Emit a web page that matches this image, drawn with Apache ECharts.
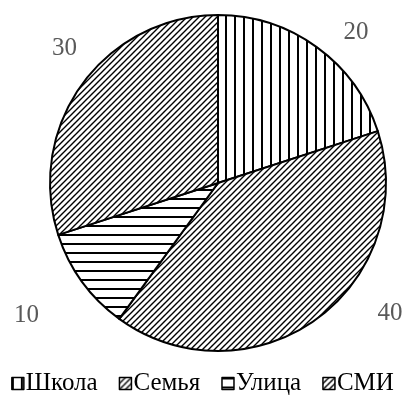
<!DOCTYPE html>
<html><head><meta charset="utf-8">
<script src="https://cdn.jsdelivr.net/npm/echarts@6/dist/echarts.min.js"></script>
<style>html,body{margin:0;padding:0;background:#fff}#c{width:405px;height:401px}</style>
</head><body><div id="c"></div>
<script>
const categories = ['Школа', 'Семья', 'Улица', 'СМИ'];
const values = [20, 40, 10, 30];
const valueLabels = ['20', '40', '10', '30'];

function makePattern(kind) {
  const c = document.createElement('canvas');
  const ctx = c.getContext('2d');
  if (kind === 'v') {
    c.width = 9; c.height = 9;
    ctx.fillStyle = '#fff'; ctx.fillRect(0, 0, 9, 9);
    ctx.fillStyle = '#000'; ctx.fillRect(0, 0, 2, 9);
  } else if (kind === 'h') {
    c.width = 9; c.height = 9;
    ctx.fillStyle = '#fff'; ctx.fillRect(0, 0, 9, 9);
    ctx.fillStyle = '#000'; ctx.fillRect(0, 0, 9, 2);
  } else {
    const p = 6;
    c.width = p; c.height = p;
    ctx.fillStyle = '#fff'; ctx.fillRect(0, 0, p, p);
    ctx.strokeStyle = '#000'; ctx.lineWidth = 1.4;
    ctx.beginPath();
    ctx.moveTo(-1, p + 1); ctx.lineTo(p + 1, -1);
    ctx.moveTo(-1, 1); ctx.lineTo(1, -1);
    ctx.moveTo(p - 1, p + 1); ctx.lineTo(p + 1, p - 1);
    ctx.stroke();
  }
  return { image: c, repeat: 'repeat' };
}
const fills = [makePattern('v'), makePattern('d'), makePattern('h'), makePattern('d')];
const labelShift = [[0, 2], [34, -22], [-12, 22], [26, -24]];

const chart = echarts.init(document.getElementById('c'), null, { renderer: 'canvas' });
chart.setOption({
  animation: false,
  backgroundColor: '#fff',
  legend: {
    data: categories,
    bottom: 0,
    left: 'center',
    icon: 'rect',
    itemWidth: 12,
    itemHeight: 12,
    itemGap: 21,
    itemStyle: { borderColor: '#000', borderWidth: 1.5 },
    textStyle: { fontFamily: 'Liberation Serif', fontSize: 25, color: '#000', padding: [0, 0, 0, -3] }
  },
  series: [{
    type: 'pie',
    center: [218, 183],
    radius: [0, 168],
    startAngle: 90,
    clockwise: true,
    avoidLabelOverlap: false,
    itemStyle: { borderColor: '#000', borderWidth: 2 },
    label: {
      show: true,
      position: 'outside',
      formatter: p => valueLabels[p.dataIndex],
      fontFamily: 'Liberation Serif',
      fontSize: 25,
      color: '#595959'
    },
    labelLine: { show: false, length: 20, length2: 10 },
    labelLayout: p => ({ dx: labelShift[p.dataIndex][0], dy: labelShift[p.dataIndex][1] }),
    emphasis: { disabled: true },
    data: categories.map((n, i) => ({ name: n, value: values[i], itemStyle: { color: fills[i] } }))
  }]
});
</script></body></html>
